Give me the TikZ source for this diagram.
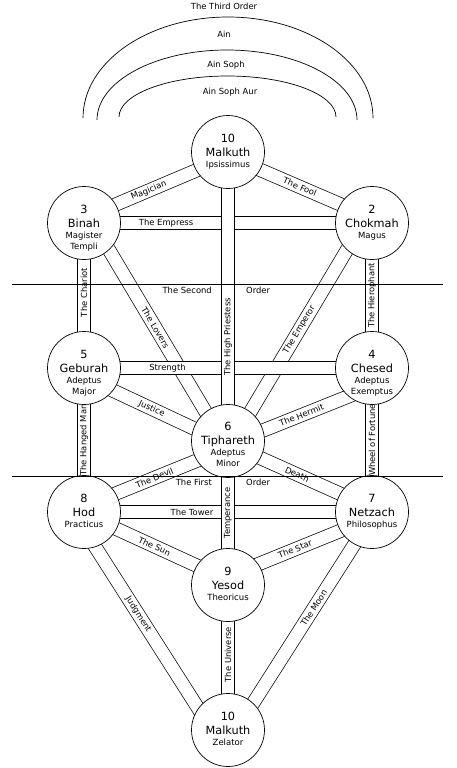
\documentclass[tikz,border=0pt]{standalone}
\usepackage{fontspec}
\setmainfont{DejaVu Sans}
\usetikzlibrary{calc,backgrounds}
\tikzset{
  seph_n/.style = {circle, draw=black, fill=white, line width=0.7pt, minimum size=73pt, inner sep=0pt},
  seph_t/.style = {inner sep=0pt, anchor=base, font=\fontsize{11.3}{13}\selectfont},
  seph_s/.style = {seph_t, font=\fontsize{8.5}{10}\selectfont},
  path_n/.style = {draw=black, line width=0.7pt, double=white, double distance=12.6pt},
  path_t/.style = {sloped, inner sep=0pt, font=\fontsize{8.4}{10}\selectfont},
  order_t/.style = {inner sep=0pt, font=\fontsize{8.4}{10}\selectfont}
}
\begin{document}
\begin{tikzpicture}[x=1pt, y=-1pt]
	\useasboundingbox (0,0) rectangle (456,768);

	% the veils above the tree
	\draw [line width=0.7pt] (83,118) arc [start angle=180, end angle=0, x radius=145pt, y radius=101pt];
	\draw [line width=0.7pt] (97,120) arc [start angle=180, end angle=0, x radius=130pt, y radius=70pt];
	\draw [line width=0.7pt] (119,117) arc [start angle=180, end angle=0, x radius=108.5pt, y radius=41pt];
	\node [order_t] (third) at (224,6)  {The Third Order};
	\node [order_t] (ain)   at (224,34) {Ain};
	\node [order_t] (ains)  at (226,65) {Ain Soph};
	\node [order_t] (ainsa) at (230,92) {Ain Soph Aur};

	% the sephiroth
	\node [seph_n] (crown)     at (228,152) {};
	\node [seph_n] (binah)     at (84,223)  {};
	\node [seph_n] (chokmah)   at (372,223) {};
	\node [seph_n] (geburah)   at (84,368)  {};
	\node [seph_n] (chesed)    at (372,368) {};
	\node [seph_n] (tiphareth) at (228,441) {};
	\node [seph_n] (hod)       at (84,512)  {};
	\node [seph_n] (netzach)   at (372,512) {};
	\node [seph_n] (yesod)     at (228,585) {};
	\node [seph_n] (malkuth)   at (228,730) {};

	\node [seph_t] (crown_n) at ([yshift=9.9pt]crown.center) {10};
	\node [seph_t] (crown_t) at ([yshift=-4.1pt]crown.center) {Malkuth};
	\node [seph_s] (crown_s) at ([yshift=-15.1pt]crown.center) {Ipsissimus};

	\node [seph_t] (binah_n)  at ([yshift=9.9pt]binah.center) {3};
	\node [seph_t] (binah_t)  at ([yshift=-4.1pt]binah.center) {Binah};
	\node [seph_s] (binah_s)  at ([yshift=-15.1pt]binah.center) {Magister};
	\node [seph_s] (binah_s2) at ([yshift=-26.1pt]binah.center) {Templi};

	\node [seph_t] (chokmah_n) at ([yshift=9.9pt]chokmah.center) {2};
	\node [seph_t] (chokmah_t) at ([yshift=-4.1pt]chokmah.center) {Chokmah};
	\node [seph_s] (chokmah_s) at ([yshift=-15.1pt]chokmah.center) {Magus};

	\node [seph_t] (geburah_n)  at ([yshift=9.9pt]geburah.center) {5};
	\node [seph_t] (geburah_t)  at ([yshift=-4.1pt]geburah.center) {Geburah};
	\node [seph_s] (geburah_s)  at ([yshift=-15.1pt]geburah.center) {Adeptus};
	\node [seph_s] (geburah_s2) at ([yshift=-26.1pt]geburah.center) {Major};

	\node [seph_t] (chesed_n)  at ([yshift=9.9pt]chesed.center) {4};
	\node [seph_t] (chesed_t)  at ([yshift=-4.1pt]chesed.center) {Chesed};
	\node [seph_s] (chesed_s)  at ([yshift=-15.1pt]chesed.center) {Adeptus};
	\node [seph_s] (chesed_s2) at ([yshift=-26.1pt]chesed.center) {Exemptus};

	\node [seph_t] (tiphareth_n)  at ([yshift=10.9pt]tiphareth.center) {6};
	\node [seph_t] (tiphareth_t)  at ([yshift=-3.1pt]tiphareth.center) {Tiphareth};
	\node [seph_s] (tiphareth_s)  at ([yshift=-14.1pt]tiphareth.center) {Adeptus};
	\node [seph_s] (tiphareth_s2) at ([yshift=-25.1pt]tiphareth.center) {Minor};

	\node [seph_t] (hod_n) at ([yshift=9.9pt]hod.center) {8};
	\node [seph_t] (hod_t) at ([yshift=-4.1pt]hod.center) {Hod};
	\node [seph_s] (hod_s) at ([yshift=-15.1pt]hod.center) {Practicus};

	\node [seph_t] (netzach_n) at ([yshift=9.9pt]netzach.center) {7};
	\node [seph_t] (netzach_t) at ([yshift=-4.1pt]netzach.center) {Netzach};
	\node [seph_s] (netzach_s) at ([yshift=-15.1pt]netzach.center) {Philosophus};

	\node [seph_t] (yesod_n) at ([yshift=9.9pt]yesod.center) {9};
	\node [seph_t] (yesod_t) at ([yshift=-4.1pt]yesod.center) {Yesod};
	\node [seph_s] (yesod_s) at ([yshift=-15.1pt]yesod.center) {Theoricus};

	\node [seph_t] (malkuth_n) at ([yshift=9.9pt]malkuth.center) {10};
	\node [seph_t] (malkuth_t) at ([yshift=-4.1pt]malkuth.center) {Malkuth};
	\node [seph_s] (malkuth_s) at ([yshift=-15.1pt]malkuth.center) {Zelator};

	% the paths, behind the circles
	\begin{scope}[on background layer]
		% slanting paths
		\draw [path_n] ([yshift=5pt]binah.center) -- node[path_t, pos=0.45] {Magician} ([yshift=-5pt]crown.center);
		\draw [path_n] ([yshift=-4pt]crown.center) -- node[path_t, pos=0.5] {The Fool} ([yshift=5pt]chokmah.center);
		\draw [path_n] ([xshift=9pt]binah.center) -- node[path_t, pos=0.48] {The Lovers} ([xshift=-5pt]tiphareth.center);
		\draw [path_n] ([xshift=5pt]tiphareth.center) -- node[path_t, pos=0.51] {The Emperor} ([xshift=-9pt]chokmah.center);
		\draw [path_n] ([yshift=-9pt]geburah.center) -- node[path_t, pos=0.47] {Justice} ([yshift=-3.5pt]tiphareth.center);
		\draw [path_n] ([yshift=-3.5pt]tiphareth.center) -- node[path_t, pos=0.51] {The Hermit} ([yshift=-19pt]chesed.center);
		\draw [path_n] ([yshift=5.5pt]hod.center) -- node[path_t, pos=0.49] {The Devil} ([yshift=-7pt]tiphareth.center);
		\draw [path_n] ([yshift=-2.5pt]tiphareth.center) -- node[path_t, pos=0.48] {Death} ([yshift=4pt]netzach.center);
		\draw [path_n] ([yshift=-2pt]hod.center) -- node[path_t, pos=0.49] {The Sun} ([yshift=5pt]yesod.center);
		\draw [path_n] ([yshift=8.5pt]yesod.center) -- node[path_t, pos=0.465] {The Star} ([yshift=-6pt]netzach.center);
		\draw [path_n] ([xshift=-11pt]hod.center) -- node[path_t, pos=0.47] {Judgment} ([xshift=-16pt]malkuth.center);
		\draw [path_n] ([xshift=8pt]malkuth.center) -- node[path_t, pos=0.56] {The Moon} ([xshift=3pt]netzach.center);
		% level paths
		\draw [path_n] (binah.center) -- node[path_t, pos=0.285] {The Empress} (chokmah.center);
		\draw [path_n] (geburah.center) -- node[path_t, pos=0.29] {Strength} (chesed.center);
		\draw [path_n] (hod.center) -- node[path_t, pos=0.375] {The Tower} (netzach.center);
		% upright paths
		\draw [path_n] (tiphareth.center) -- node[path_t, pos=0.36] {The High Priestess} (crown.center);
		\draw [path_n] (geburah.center) -- node[path_t, pos=0.52] {The Chariot} (binah.center);
		\draw [path_n] (chesed.center) -- node[path_t, pos=0.5] {The Hierophant} (chokmah.center);
		\draw [path_n] (hod.center) -- node[path_t, pos=0.5] {The Hanged Man} (geburah.center);
		\draw [path_n] (netzach.center) -- node[path_t, pos=0.5] {Wheel of Fortune} (chesed.center);
		\draw [path_n] (yesod.center) -- node[path_t, pos=0.5] {Temperance} (tiphareth.center);
		\draw [path_n] (malkuth.center) -- node[path_t, pos=0.52] {The Universe} (yesod.center);
	\end{scope}

	% the orders
	\coordinate (second_l) at (12,284);
	\coordinate (second_r) at (443,284);
	\coordinate (first_l) at (12,476);
	\coordinate (first_r) at (443,476);
	\draw [line width=0.7pt] (second_l) -- (second_r);
	\draw [line width=0.7pt] (first_l) -- (first_r);
	\node [order_t, anchor=base east] (second_a) at (212,293) {The Second};
	\node [order_t, anchor=base west] (second_b) at (246,293) {Order};
	\node [order_t, anchor=base east] (first_a) at (212,485) {The First};
	\node [order_t, anchor=base west] (first_b) at (246,485) {Order};
\end{tikzpicture}
\end{document}
